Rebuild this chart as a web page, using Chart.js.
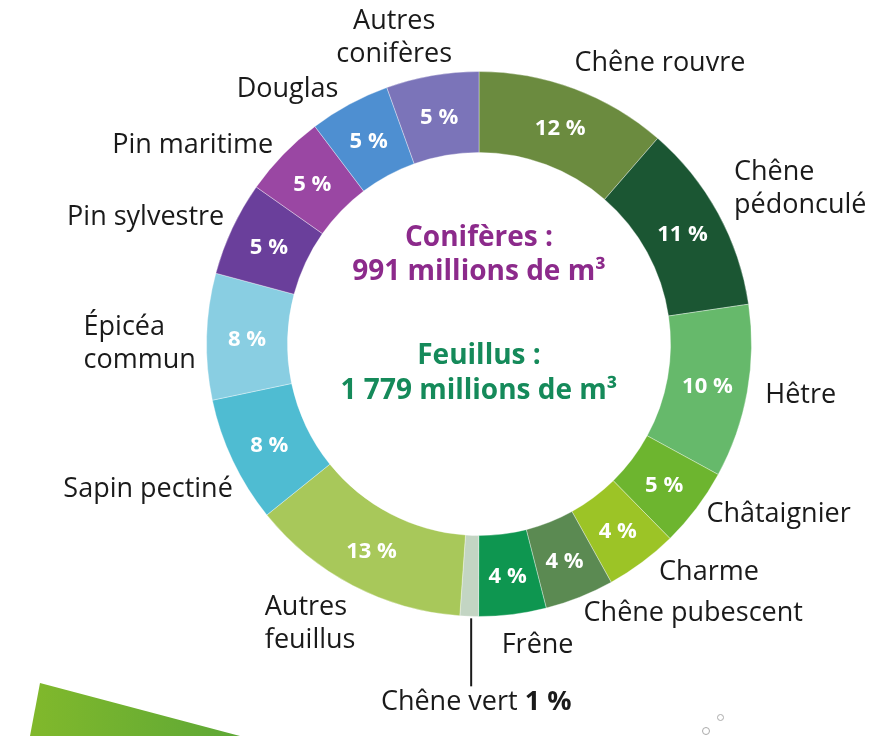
<!DOCTYPE html>
<html>
<head>
<meta charset="utf-8">
<script src="https://cdn.jsdelivr.net/npm/chart.js@4.4.0/dist/chart.umd.min.js"></script>
<style>
  body { margin: 0; background: #fff; }
  .wrap { position: relative; width: 884px; height: 736px; overflow: hidden; }
  .leaf { position: absolute; left: 0; top: 680px; width: 260px; height: 56px;
    background: linear-gradient(90deg, #86bb2a, #5aa637);
    clip-path: polygon(40px 3px, 240px 56px, 30px 56px); }
  .dot { position: absolute; border: 1.5px solid #aaa; border-radius: 50%; background: #fff; }
</style>
</head>
<body>
<div class="wrap">
  <canvas id="myChart" width="884" height="736"></canvas>
  <div class="leaf"></div>
  <div class="dot" style="left:717px;top:714px;width:5px;height:5px"></div>
  <div class="dot" style="left:702px;top:727px;width:6px;height:6px"></div>
</div>
<script>
// essences, clockwise from the top
const species = ["Chêne rouvre", "Chêne pédonculé", "Hêtre", "Châtaignier", "Charme",
  "Chêne pubescent", "Frêne", "Chêne vert", "Autres feuillus", "Sapin pectiné",
  "Épicéa commun", "Pin sylvestre", "Pin maritime", "Douglas", "Autres conifères"];
// share of the volume as drawn (arc sizes)
const shares = [11.4, 11.3, 10.3, 4.7, 4.3, 4.1, 4.0, 1.1, 13.1, 7.5, 7.5, 5.6, 4.95, 4.8, 5.5];
// printed percentages
const pctText = ["12 %", "11 %", "10 %", "5 %", "4 %", "4 %", "4 %", "1 %", "13 %", "8 %",
  "8 %", "5 %", "5 %", "5 %", "5 %"];
const colors = ["#6b8b3f", "#1b5633", "#66b96b", "#6db52f", "#9cc426", "#5b8a52", "#0e9650",
  "#c3d5c3", "#a8c85a", "#4fbcd2", "#89cee2", "#6a3f9b", "#9a47a3", "#4e8fd1", "#7b74b9"];
const conifText = ["Conifères :", "991 millions de m³"];
const feuilText = ["Feuillus :", "1 779 millions de m³"];

// where each outer label sits, relative to the outer middle of its arc: [dx, dy, align, lines]
const placement = [
  [0, -25, "left", ["Chêne rouvre"]],
  [16, -24, "left", ["Chêne", "pédonculé"]],
  [18, 3, "left", ["Hêtre"]],
  [10, 6, "left", ["Châtaignier"]],
  [17, 10, "left", ["Charme"]],
  [4, 16, "left", ["Chêne pubescent"]],
  [-11, 31, "left", ["Frêne"]],
  [7, 86, "center", null],
  [-88, 38, "left", ["Autres", "feuillus"]],
  [0, 28, "right", ["Sapin pectiné"]],
  [-123, 7, "left", ["Épicéa", "commun"]],
  [-8, -11, "right", ["Pin sylvestre"]],
  [-10, -9, "right", ["Pin maritime"]],
  [-11, -15, "right", ["Douglas"]],
  [-38, -38, "center", ["Autres", "conifères"]]
];

const FONT = '"Open Sans", "Noto Sans", sans-serif';
const lineH = 33;
const labelSize = 27;

const labelPlugin = {
  id: 'labels',
  afterDatasetsDraw: function (chart) {
    var ctx = chart.ctx;
    var arcs = chart.getDatasetMeta(0).data;
    ctx.save();
    ctx.textBaseline = 'middle';
    arcs.forEach(function (arc, i) {
      var mid = (arc.startAngle + arc.endAngle) / 2;
      var rm = (arc.innerRadius + arc.outerRadius) / 2;
      // percent inside the ring (skip the thin slice)
      if (i !== 7) {
        ctx.fillStyle = '#fff';
        ctx.font = 'bold 22px ' + FONT;
        ctx.textAlign = 'center';
        ctx.fillText(pctText[i], arc.x + Math.cos(mid) * rm, arc.y + Math.sin(mid) * rm + 2);
      }
      var ox = arc.x + Math.cos(mid) * arc.outerRadius;
      var oy = arc.y + Math.sin(mid) * arc.outerRadius;
      var p = placement[i];
      var tx = ox + p[0], ty = oy + p[1];
      ctx.fillStyle = '#1a1a1a';
      ctx.textAlign = p[2];
      if (p[3]) {
        ctx.font = labelSize + 'px ' + FONT;
        var top = ty - (p[3].length - 1) * lineH / 2;
        p[3].forEach(function (line, k) {
          ctx.fillText(line, tx, top + k * lineH);
        });
      } else {
        // Chêne vert: leader line and mixed weight label
        ctx.strokeStyle = '#1a1a1a';
        ctx.lineWidth = 2;
        ctx.beginPath();
        ctx.moveTo(ox + 2, oy + 2);
        ctx.lineTo(ox + 2, ty - 16);
        ctx.stroke();
        var a = species[i] + ' ';
        ctx.font = 'bold ' + labelSize + 'px ' + FONT;
        var bw = ctx.measureText(pctText[i]).width;
        ctx.font = labelSize + 'px ' + FONT;
        var aw = ctx.measureText(a).width;
        var sx = tx - (aw + bw) / 2;
        ctx.textAlign = 'left';
        ctx.fillText(a, sx, ty);
        ctx.font = 'bold ' + labelSize + 'px ' + FONT;
        ctx.fillText(pctText[i], sx + aw, ty);
      }
    });
    // centre totals
    var cx = arcs[0].x, cy = arcs[0].y;
    ctx.textAlign = 'center';
    ctx.font = 'bold 28px ' + FONT;
    ctx.fillStyle = '#8c2a8b';
    ctx.fillText(conifText[0], cx, cy - 106);
    ctx.fillText(conifText[1], cx, cy - 72);
    ctx.fillStyle = '#158a5a';
    ctx.fillText(feuilText[0], cx, cy + 12);
    ctx.fillText(feuilText[1], cx, cy + 47);
    ctx.restore();
  }
};

function drawDoughnut() {
  var ctx = document.getElementById('myChart').getContext('2d');
  return new Chart(ctx, {
    type: 'doughnut',
    data: {
      labels: species,
      datasets: [{
        data: shares,
        backgroundColor: colors,
        borderColor: 'rgba(255,255,255,0.35)',
        borderWidth: 1
      }]
    },
    options: {
      responsive: false,
      animation: false,
      devicePixelRatio: 1,
      cutout: '70.3%',
      layout: { padding: { left: 206, top: 71, right: 132, bottom: 119 } },
      plugins: { legend: { display: false }, tooltip: { enabled: false } }
    },
    plugins: [labelPlugin]
  });
}

const forestChart = drawDoughnut();
</script>
</body>
</html>
